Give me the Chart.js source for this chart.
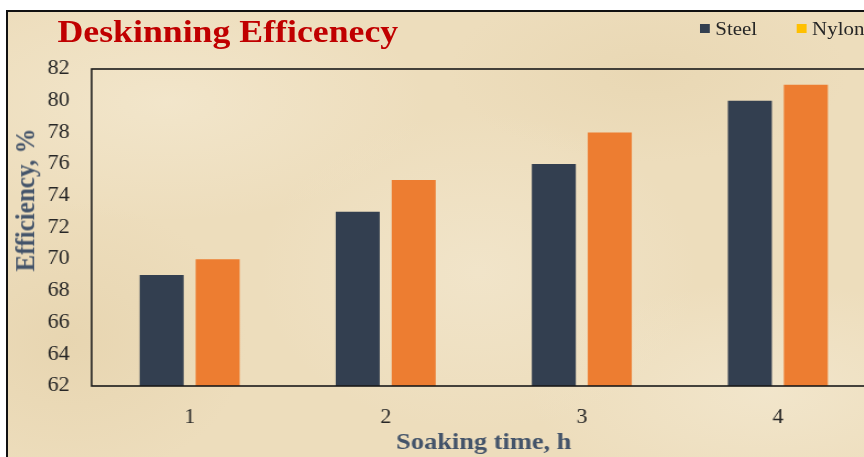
<!DOCTYPE html>
<html>
<head>
<meta charset="utf-8">
<title>Deskinning Efficenecy</title>
<script src="https://cdn.jsdelivr.net/npm/chart.js@4.4.1/dist/chart.umd.min.js"></script>
<style>
    html, body { margin: 0; padding: 0; background: #fff; width: 864px; height: 457px; overflow: hidden; }
    #frame {
        position: absolute; left: 6px; top: 10px; width: 900px; height: 460px;
        border-top: 2px solid #111; border-left: 2px solid #111; overflow: hidden;
        background-color: #EDDDBC;
        background-image:
            radial-gradient(ellipse 260px 120px at 160px 90px, rgba(245,235,212,0.6), rgba(245,235,212,0)),
            radial-gradient(ellipse 220px 160px at 470px 260px, rgba(244,234,212,0.55), rgba(244,234,212,0)),
            radial-gradient(ellipse 240px 110px at 760px 380px, rgba(245,236,215,0.55), rgba(245,236,215,0)),
            radial-gradient(ellipse 180px 140px at 60px 330px, rgba(226,206,166,0.5), rgba(226,206,166,0)),
            radial-gradient(ellipse 200px 90px at 640px 60px, rgba(228,209,170,0.45), rgba(228,209,170,0));
    }
    /* the reference is a bit wider than tall, so the whole drawing is stretched a little */
    #inner { position: absolute; left: 0; top: 0; width: 789px; height: 445px; transform: scaleX(1.1); transform-origin: 0 0; }
    #title {
        position: absolute; left: 45px; top: 1px; line-height: 1; white-space: nowrap;
        font: bold 32.5px "Liberation Serif", "Times New Roman", serif; color: #C00000;
    }
    #ytitle {
        position: absolute; left: 15.5px; top: 188px; line-height: 1; white-space: nowrap;
        transform: translate(-50%, -50%) rotate(-90deg);
        font: bold 25px "Liberation Serif", "Times New Roman", serif; color: #44546A;
    }
    .item { position: absolute; top: 7px; display: flex; align-items: center; white-space: nowrap;
        font: 19px "Liberation Serif", "Times New Roman", serif; color: #262626; line-height: 1; }
    .item span { display: inline-block; width: 9px; height: 9px; margin-right: 5px; }
    canvas { position: absolute; left: 0; top: 0; }
</style>
</head>
<body>
<div id="frame">
    <div id="inner">
        <canvas id="chart" width="789" height="445"></canvas>
        <div id="title">Deskinning Efficenecy</div>
        <div id="ytitle">Efficiency, %</div>
        <div id="legend"></div>
    </div>
</div>
<script>
'use strict';

// data
var categories = ['1', '2', '3', '4'];
var steelValues = [69, 73, 76, 80];
var nylonValues = [70, 75, 78, 81];
var seriesNames = ['Steel', 'Nylon'];
var yMin = 62, yMax = 82, yStep = 2;

var serif = '"Liberation Serif", "Times New Roman", serif';
var barColors = ['#333F50', '#ED7D31'];
var legendColors = ['#333F50', '#FFC000'];

// legend (html, the picture cuts it off on the right)
var legendLeft = [629, 717];
var legendEl = document.getElementById('legend');
seriesNames.forEach(function (name, i) {
    var div = document.createElement('div');
    div.className = 'item';
    div.style.left = legendLeft[i] + 'px';
    div.innerHTML = '<span style="background:' + legendColors[i] + '"></span>' + name;
    legendEl.appendChild(div);
});

// frame round the plot area
var plotFrame = {
    id: 'plotFrame',
    afterDatasetsDraw: function (chart) {
        var a = chart.chartArea;
        var ctx = chart.ctx;
        ctx.save();
        ctx.strokeStyle = '#1a1a1a';
        ctx.lineWidth = 1.6;
        ctx.strokeRect(a.left, a.top, a.right - a.left, a.bottom - a.top);
        ctx.restore();
    }
};

new Chart(document.getElementById('chart'), {
    type: 'bar',
    data: {
        labels: categories,
        datasets: [
            { label: seriesNames[0], data: steelValues, backgroundColor: barColors[0] },
            { label: seriesNames[1], data: nylonValues, backgroundColor: barColors[1] }
        ]
    },
    options: {
        responsive: false,
        animation: false,
        devicePixelRatio: 1,
        categoryPercentage: 0.571,
        barPercentage: 0.786,
        layout: { padding: { top: 57, left: 0, right: 0, bottom: 0 } },
        plugins: {
            legend: { display: false },
            title: { display: false },
            tooltip: { enabled: false }
        },
        scales: {
            x: {
                grid: { display: false, drawTicks: false },
                border: { display: false },
                ticks: { color: '#262626', padding: 20, font: { family: serif, size: 20 } },
                title: {
                    display: true, text: 'Soaking time, h', color: '#44546A',
                    font: { family: serif, size: 24, weight: 'bold' },
                    padding: { top: 0, bottom: 0 }
                },
                afterFit: function (scale) { scale.height = 71; }
            },
            y: {
                min: yMin,
                max: yMax,
                grid: { display: false, drawTicks: false },
                border: { display: false },
                ticks: { stepSize: yStep, color: '#262626', padding: 20, font: { family: serif, size: 20 } },
                afterFit: function (scale) { scale.width = 76; }
            }
        }
    },
    plugins: [plotFrame]
});
</script>
</body>
</html>
